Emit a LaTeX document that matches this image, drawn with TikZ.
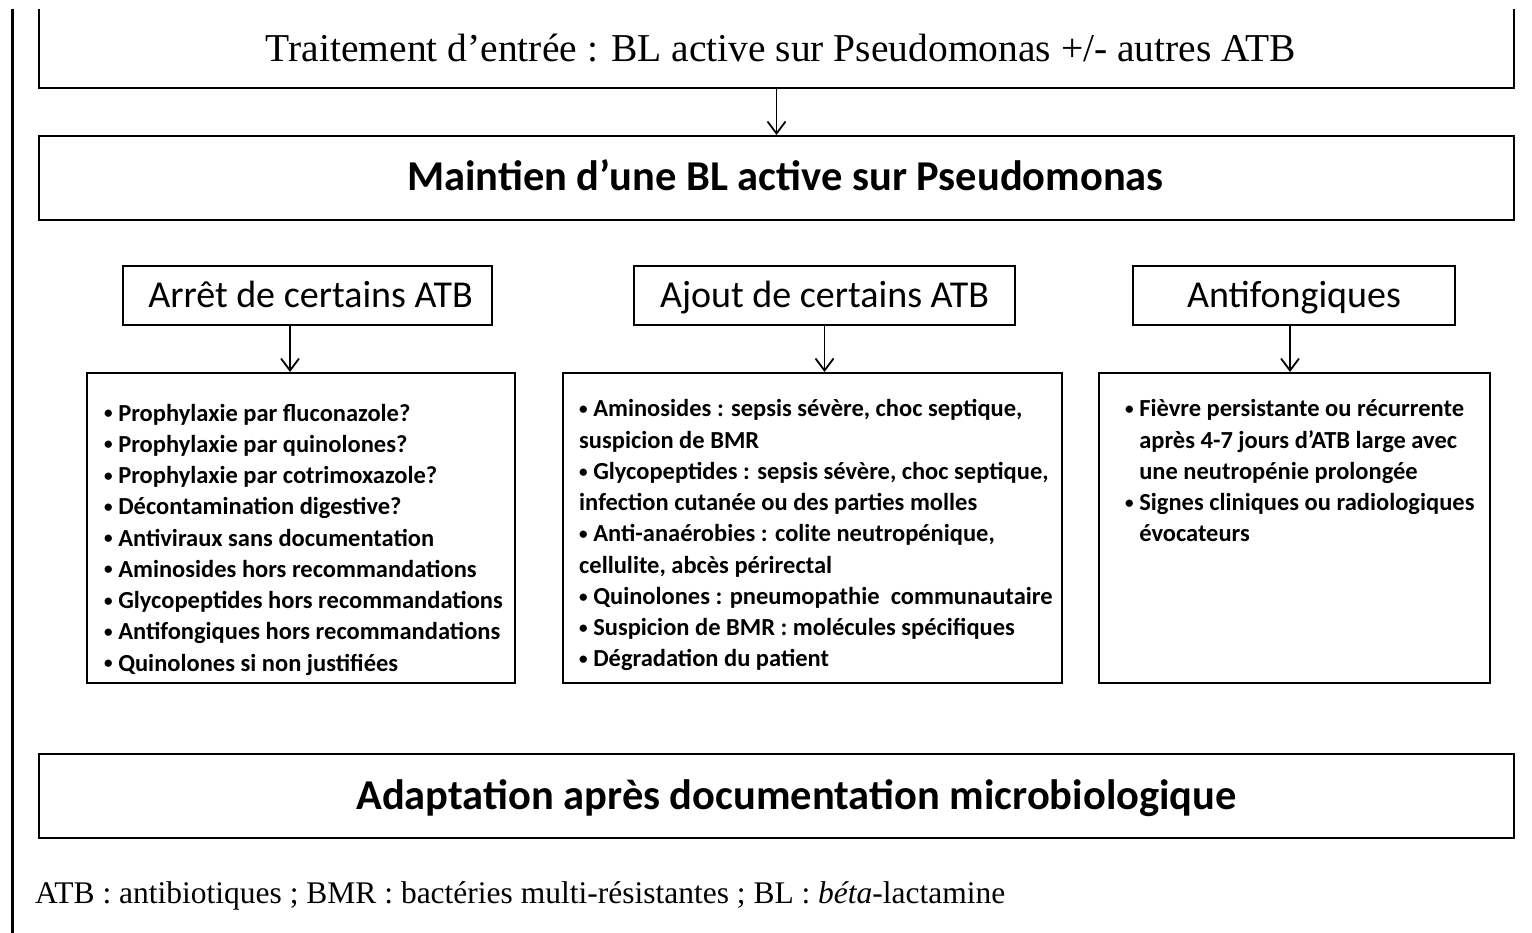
\documentclass[tikz,border=0pt]{standalone}
\usepackage{fontspec}
\setmainfont{Carlito}
\newfontfamily\titrefont{Liberation Serif}
\newfontfamily\notefont{Liberation Serif}
\usetikzlibrary{arrows.meta}

\newcommand{\puce}{\raisebox{0.1em}{\scalebox{0.7}{\textbullet}}\ }

\begin{document}
\begin{tikzpicture}[x=1pt,y=-1pt,
  box/.style={draw,line width=2pt,inner sep=0pt},
  arr/.style={line width=1.8pt,-{Straight Barb[length=12pt,width=18pt,line width=1.8pt]}},
  head/.style={box,minimum height=59pt,text height=32pt,text depth=8pt,font=\fontsize{38}{44}\selectfont},
  big/.style={box,minimum width=1475pt,minimum height=84pt,text height=34pt,text depth=8pt,font=\bfseries},
  listbox/.style={box,minimum height=310pt},
  liste/.style={anchor=base west,inner sep=0pt,font=\fontsize{24.5}{31.25}\selectfont\bfseries}]
  \useasboundingbox (0,0) rectangle (1532,933);

  % Barre verticale à gauche
  \draw[line width=3.5pt] (12.5,9) -- (12.5,933);

  % Cadre du haut (ouvert en haut)
  \node[minimum width=1475pt,minimum height=79pt,inner sep=0pt] (entree) at (776.5,48.5)
    {\titrefont\fontsize{39.5}{46}\selectfont\hspace*{9pt}Traitement d’entrée : BL active sur Pseudomonas +/- autres ATB};
  \draw[line width=2pt] (entree.north west) -- (entree.south west) -- (entree.south east) -- (entree.north east);

  \node[big] (maintien) at (776.5,178) {\fontsize{42.5}{50}\selectfont\hspace*{18pt}Maintien d’une BL active sur Pseudomonas};
  \draw[arr] (entree.south) -- (maintien.north);

  % Trois colonnes
  \node[head,minimum width=369pt] (arret) at (307.5,296) {\hspace*{6pt}Arrêt de certains ATB};
  \node[head,minimum width=381pt] (ajout) at (824.5,296) {Ajout de certains ATB};
  \node[head,minimum width=322pt] (antifong) at (1294,296) {Antifongiques};

  \node[listbox,minimum width=428pt] (arretlist) at (301,528) {};
  \node[listbox,minimum width=499pt] (ajoutlist) at (812.5,528) {};
  \node[listbox,minimum width=391pt] (antifonglist) at (1294.5,528) {};

  \draw[arr] ([xshift=-17.5pt]arret.south) -- ([xshift=-17.5pt]arret.south |- arretlist.north);
  \draw[arr] (ajout.south) -- (ajout.south |- ajoutlist.north);
  \draw[arr] ([xshift=-4pt]antifong.south) -- ([xshift=-4pt]antifong.south |- antifonglist.north);

  \node[liste] (arrettxt) at (104,421) {\begin{tabular}[t]{@{}l@{}}
    \puce Prophylaxie par fluconazole?\\
    \puce Prophylaxie par quinolones?\\
    \puce Prophylaxie par cotrimoxazole?\\
    \puce Décontamination digestive?\\
    \puce Antiviraux sans documentation\\
    \puce Aminosides hors recommandations\\
    \puce Glycopeptides hors recommandations\\
    \puce Antifongiques hors recommandations\\
    \puce Quinolones si non justifiées
  \end{tabular}};

  \node[liste] (ajouttxt) at (579,417) {\begin{tabular}[t]{@{}l@{}}
    \puce Aminosides : sepsis sévère, choc septique,\\
    suspicion de BMR\\
    \puce Glycopeptides : sepsis sévère, choc septique,\\
    infection cutanée ou des parties molles\\
    \puce Anti-anaérobies : colite neutropénique,\\
    cellulite, abcès périrectal\\
    \puce Quinolones : pneumopathie \ communautaire\\
    \puce Suspicion de BMR : molécules spécifiques\\
    \puce Dégradation du patient
  \end{tabular}};

  \node[liste] (antifongtxt) at (1125,417) {\begin{tabular}[t]{@{}l@{}}
    \puce Fièvre persistante ou récurrente\\
    \hphantom{\puce}après 4-7 jours d’ATB large avec\\
    \hphantom{\puce}une neutropénie prolongée\\
    \puce Signes cliniques ou radiologiques\\
    \hphantom{\puce}évocateurs
  \end{tabular}};

  % Cadre du bas
  \node[big] (adaptation) at (776.5,796) {\fontsize{42.5}{50}\selectfont\hspace*{40pt}Adaptation après documentation microbiologique};

  % Légende
  \node[anchor=base west,inner sep=0pt,font=\notefont\fontsize{31.5}{36}\selectfont] (legende) at (35,903)
    {ATB : antibiotiques ; BMR : bactéries multi-résistantes ; BL : \textit{béta}-lactamine};
\end{tikzpicture}
\end{document}
